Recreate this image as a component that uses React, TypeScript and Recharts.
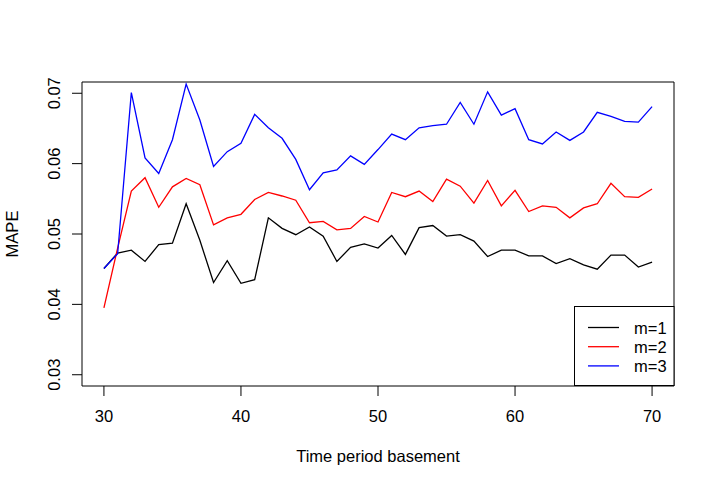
import { LineChart, Line, XAxis, YAxis, ReferenceArea } from "recharts";

const periods = [
  30, 31, 32, 33, 34, 35, 36, 37, 38, 39, 40, 41, 42, 43, 44, 45, 46, 47, 48, 49, 50,
  51, 52, 53, 54, 55, 56, 57, 58, 59, 60, 61, 62, 63, 64, 65, 66, 67, 68, 69, 70,
];

const m1 = [
  0.0451, 0.0473, 0.0477, 0.0461, 0.0485, 0.0487, 0.0543, 0.0491, 0.0431, 0.0462, 0.043,
  0.0435, 0.0523, 0.0508, 0.0499, 0.051, 0.0497, 0.0461, 0.0481, 0.0486, 0.048,
  0.0498, 0.0471, 0.0509, 0.0512, 0.0497, 0.0499, 0.049, 0.0468, 0.0477, 0.0477,
  0.0469, 0.0469, 0.0458, 0.0465, 0.0456, 0.045, 0.047, 0.047, 0.0453, 0.046,
];

const m2 = [
  0.0395, 0.048, 0.0561, 0.058, 0.0538, 0.0567, 0.0579, 0.057, 0.0513, 0.0523, 0.0528,
  0.0549, 0.0559, 0.0554, 0.0548, 0.0516, 0.0518, 0.0506, 0.0508, 0.0525, 0.0517,
  0.0559, 0.0553, 0.0561, 0.0546, 0.0578, 0.0568, 0.0544, 0.0576, 0.054, 0.0562,
  0.0532, 0.054, 0.0538, 0.0523, 0.0537, 0.0543, 0.0572, 0.0553, 0.0552, 0.0564,
];

const m3 = [
  0.0451, 0.0472, 0.0701, 0.0608, 0.0586, 0.0634, 0.0713, 0.0662, 0.0596, 0.0617, 0.0629,
  0.067, 0.0651, 0.0636, 0.0606, 0.0563, 0.0587, 0.0591, 0.0611, 0.0599, 0.062,
  0.0642, 0.0634, 0.0651, 0.0654, 0.0656, 0.0687, 0.0656, 0.0702, 0.0669, 0.0678,
  0.0634, 0.0628, 0.0645, 0.0633, 0.0645, 0.0673, 0.0667, 0.066, 0.0659, 0.0681,
];

const xTicks = [30, 40, 50, 60, 70];
const yTicks = [0.03, 0.04, 0.05, 0.06, 0.07];

const series = [
  { key: "m1", name: "m=1", color: "#000000" },
  { key: "m2", name: "m=2", color: "#FF0000" },
  { key: "m3", name: "m=3", color: "#0000FF" },
];

const data = periods.map((p, i) => ({ period: p, m1: m1[i], m2: m2[i], m3: m3[i] }));

const FONT = '"Liberation Sans", Arial, Helvetica, sans-serif';
const FS = 16.5;

const XTick = (props: any) => (
  <text x={props.x} y={422} textAnchor="middle" fontFamily={FONT} fontSize={FS} fill="#000">
    {props.payload.value}
  </text>
);

const YTick = (props: any) => {
  const y = props.y;
  return (
    <text
      x={60}
      y={y}
      transform={`rotate(-90, 60, ${y})`}
      textAnchor="middle"
      fontFamily={FONT}
      fontSize={FS}
      fill="#000"
    >
      {props.payload.value.toFixed(2)}
    </text>
  );
};

export default function App() {
  return (
    <div style={{ position: "absolute", left: 0, top: 0, width: 716, height: 488, background: "#fff" }}>
      <LineChart width={716} height={488} data={data} margin={{ top: 82, right: 42, left: 0, bottom: 0 }}>
        <XAxis
          dataKey="period"
          type="number"
          domain={[28.4, 71.6]}
          ticks={xTicks}
          allowDataOverflow
          height={102}
          axisLine={false}
          tickSize={10}
          tickLine={{ stroke: "#000" }}
          tick={<XTick />}
        />
        <YAxis
          type="number"
          domain={[0.0284, 0.0716]}
          ticks={yTicks}
          allowDataOverflow
          width={82}
          axisLine={false}
          tickSize={10}
          tickLine={{ stroke: "#000" }}
          tick={<YTick />}
        />
        <ReferenceArea x1={28.4} x2={71.6} y1={0.0284} y2={0.0716} fill="none" stroke="#000" strokeWidth={1} ifOverflow="visible" />
        {series.map((s) => (
          <Line
            key={s.key}
            dataKey={s.key}
            stroke={s.color}
            strokeWidth={1.3}
            dot={false}
            type="linear"
            isAnimationActive={false}
          />
        ))}
      </LineChart>
      <svg style={{ position: "absolute", left: 0, top: 0 }} width={716} height={488} pointerEvents="none">
        <text x={378} y={462} textAnchor="middle" fontFamily={FONT} fontSize={FS} fill="#000">
          Time period basement
        </text>
        <text x={18} y={234} transform="rotate(-90, 18, 234)" textAnchor="middle" fontFamily={FONT} fontSize={FS} fill="#000">
          MAPE
        </text>
        <rect x={574.5} y={306.5} width={99.5} height={79} fill="#fff" stroke="#000" strokeWidth={1} />
        {series.map((s, i) => (
          <g key={s.key}>
            <line x1={588} x2={619} y1={327.5 + i * 19.2} y2={327.5 + i * 19.2} stroke={s.color} strokeWidth={1.3} />
            <text x={634} y={333.5 + i * 19.2} fontFamily={FONT} fontSize={FS} fill="#000">
              {s.name}
            </text>
          </g>
        ))}
      </svg>
    </div>
  );
}
